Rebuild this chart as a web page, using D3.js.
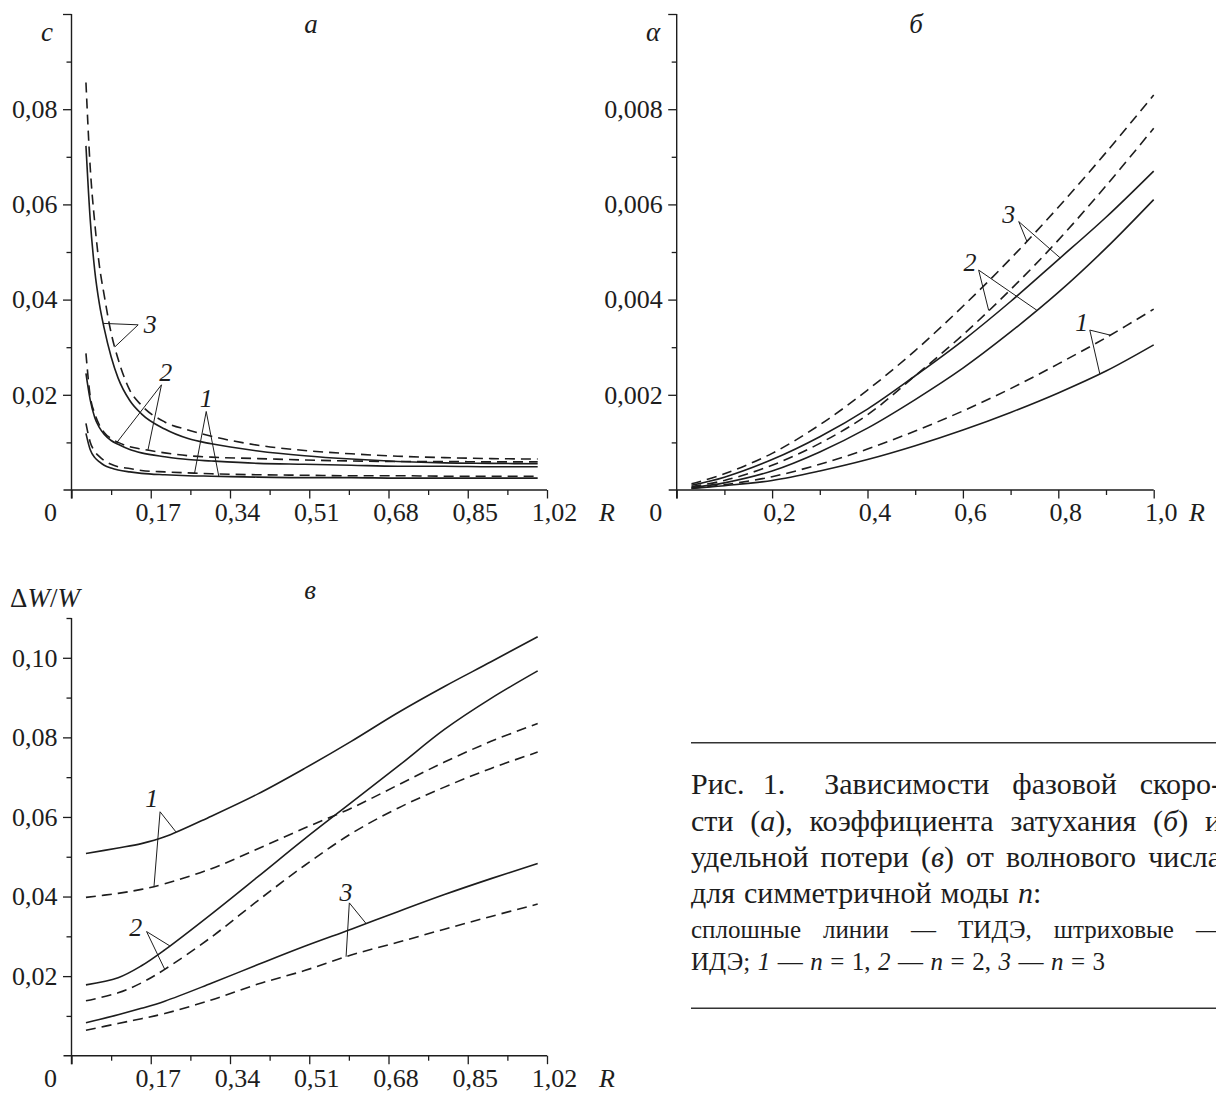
<!DOCTYPE html>
<html>
<head>
<meta charset="utf-8">
<script src="https://cdn.jsdelivr.net/npm/d3@7"></script>
<style>
    body { margin: 0; background: #fff; }
    svg { display: block; font-family: "Liberation Serif", "DejaVu Serif", serif; }
</style>
</head>
<body>
<script>
// ---- values ----

// a: phase speed c(R)
var rA = [0.031, 0.04, 0.05, 0.06, 0.07, 0.085, 0.1, 0.125, 0.15, 0.2, 0.25, 0.3, 0.4, 0.5, 0.6, 0.7, 0.8, 0.9, 1.0]
var cSolid1  = [0.0119, 0.0085, 0.0068, 0.0059, 0.0052, 0.0046, 0.0042, 0.0038, 0.0035, 0.0032, 0.0030, 0.0029, 0.0027, 0.0026, 0.0026, 0.0025, 0.0025, 0.0025, 0.0025]
var cDashed1 = [0.0140, 0.0101, 0.0081, 0.0070, 0.0062, 0.0054, 0.0049, 0.0045, 0.0041, 0.0038, 0.0036, 0.0034, 0.0032, 0.0031, 0.0030, 0.0030, 0.0029, 0.0029, 0.0029]
var cSolid2  = [0.0245, 0.0190, 0.0152, 0.0131, 0.0117, 0.0104, 0.0096, 0.0085, 0.0078, 0.0070, 0.0064, 0.0061, 0.0056, 0.0054, 0.0052, 0.0050, 0.0050, 0.0049, 0.0049]
var cDashed2 = [0.0287, 0.0198, 0.0160, 0.0136, 0.0121, 0.0108, 0.0100, 0.0091, 0.0086, 0.0078, 0.0072, 0.0069, 0.0066, 0.0063, 0.0061, 0.0060, 0.0060, 0.0059, 0.0059]
var cSolid3  = [0.0723, 0.0570, 0.0460, 0.0390, 0.0340, 0.0280, 0.0235, 0.0188, 0.0160, 0.0128, 0.0108, 0.0097, 0.0082, 0.0072, 0.0065, 0.0060, 0.0057, 0.0056, 0.0055]
var cDashed3 = [0.0856, 0.0680, 0.0560, 0.0470, 0.0410, 0.0330, 0.0275, 0.0210, 0.0178, 0.0143, 0.0126, 0.0113, 0.0094, 0.0083, 0.0076, 0.0071, 0.0068, 0.0066, 0.0065]

// б: damping coefficient alpha(R)
var rB = [0.031, 0.1, 0.2, 0.3, 0.4, 0.5, 0.6, 0.7, 0.8, 0.9, 1.0]
var aSolid1  = [0.00003, 0.00009, 0.00020, 0.00040, 0.00064, 0.00093, 0.00126, 0.00163, 0.00204, 0.00250, 0.00305]
var aDashed1 = [0.00004, 0.00011, 0.00028, 0.00054, 0.00086, 0.00124, 0.00166, 0.00213, 0.00265, 0.00320, 0.00380]
var aSolid2  = [0.00005, 0.00015, 0.00040, 0.00080, 0.00130, 0.00190, 0.00256, 0.00332, 0.00415, 0.00508, 0.00610]
var aDashed2 = [0.00007, 0.00020, 0.00052, 0.00098, 0.00158, 0.00240, 0.00326, 0.00421, 0.00525, 0.00639, 0.00760]
var aSolid3  = [0.00010, 0.00027, 0.00064, 0.00112, 0.00170, 0.00240, 0.00314, 0.00396, 0.00484, 0.00573, 0.00670]
var aDashed3 = [0.00013, 0.00034, 0.00077, 0.00137, 0.00210, 0.00293, 0.00386, 0.00486, 0.00594, 0.00709, 0.00830]

// в: specific loss dW/W(R)
var rC = [0.031, 0.1, 0.15, 0.2, 0.3, 0.4, 0.5, 0.6, 0.7, 0.8, 0.9, 1.0]
var wSolid1  = [0.0508, 0.0522, 0.0533, 0.0550, 0.0602, 0.0658, 0.0722, 0.0790, 0.0862, 0.0928, 0.0990, 0.1053]
var wDashed1 = [0.0398, 0.0408, 0.0418, 0.0432, 0.0470, 0.0520, 0.0572, 0.0622, 0.0680, 0.0738, 0.0790, 0.0835]
var wSolid2  = [0.0178, 0.0196, 0.0226, 0.0266, 0.0356, 0.0450, 0.0545, 0.0636, 0.0727, 0.0820, 0.0898, 0.0967]
var wDashed2 = [0.0138, 0.0158, 0.0183, 0.0217, 0.0298, 0.0390, 0.0478, 0.0558, 0.0622, 0.0675, 0.0722, 0.0763]
var wSolid3  = [0.0083, 0.0103, 0.0119, 0.0137, 0.0182, 0.0229, 0.0275, 0.0318, 0.0362, 0.0405, 0.0445, 0.0483]
var wDashed3 = [0.0064, 0.0081, 0.0093, 0.0106, 0.0140, 0.0180, 0.0214, 0.0253, 0.0285, 0.0318, 0.0350, 0.0381]

// ticks and their labels
var xTicksA = [0, 0.17, 0.34, 0.51, 0.68, 0.85, 1.02]
var xLabelsA = ["0", "0,17", "0,34", "0,51", "0,68", "0,85", "1,02"]
var xMinorA = [0.085, 0.255, 0.425, 0.595, 0.765, 0.935]
var yTicksA = [0.02, 0.04, 0.06, 0.08, 0.1]
var yLabelsA = ["0,02", "0,04", "0,06", "0,08", ""]
var yMinorA = [0.01, 0.03, 0.05, 0.07, 0.09]

var xTicksB = [0, 0.2, 0.4, 0.6, 0.8, 1.0]
var xLabelsB = ["0", "0,2", "0,4", "0,6", "0,8", "1,0"]
var xMinorB = [0.1, 0.3, 0.5, 0.7, 0.9]
var yTicksB = [0.002, 0.004, 0.006, 0.008, 0.01]
var yLabelsB = ["0,002", "0,004", "0,006", "0,008", ""]
var yMinorB = [0.001, 0.003, 0.005, 0.007, 0.009]

var yTicksC = [0.02, 0.04, 0.06, 0.08, 0.1]
var yLabelsC = ["0,02", "0,04", "0,06", "0,08", "0,10"]
var yMinorC = [0.01, 0.03, 0.05, 0.07, 0.09, 0.11]

// curve numbers with their leader lines: label point, apex, and the R where each leg meets a curve
var leadersA = [
    { n: "3", at: [0.169, 0.0350], apex: [0.143, 0.0347], legs: [["s3", 0.068], ["d3", 0.093]] },
    { n: "2", at: [0.202, 0.0249], apex: [0.193, 0.0221], legs: [["s2", 0.096], ["d2", 0.164]] },
    { n: "1", at: [0.289, 0.0193], apex: [0.289, 0.0165], legs: [["d1", 0.264], ["s1", 0.316]] }
]
var leadersB = [
    { n: "3", at: [0.696, 0.00581], apex: [0.717, 0.00564], legs: [["d3", 0.734], ["s3", 0.804]] },
    { n: "2", at: [0.615, 0.00480], apex: [0.633, 0.00462], legs: [["d2", 0.654], ["s2", 0.755]] },
    { n: "1", at: [0.849, 0.00354], apex: [0.866, 0.00336], legs: [["d1", 0.909], ["s1", 0.887]] }
]
var leadersC = [
    { n: "1", at: [0.172, 0.0647], apex: [0.190, 0.0613], legs: [["s1", 0.224], ["d1", 0.177]] },
    { n: "2", at: [0.138, 0.0324], apex: [0.161, 0.0312], legs: [["s2", 0.211], ["d2", 0.200]] },
    { n: "3", at: [0.589, 0.0412], apex: [0.596, 0.0384], legs: [["s3", 0.632], ["d3", 0.589]] }
]

// ---- drawing ----
var width = 1216
var height = 1093
var ink = "#1d1d1d"
var tickFont = 26

var svg = d3.select("body").append("svg")
    .attr("width", width)
    .attr("height", height)

svg.append("rect").attr("width", width).attr("height", height).attr("fill", "#fff")

function buildSeries(r, lists) {
    var out = {}
    Object.keys(lists).forEach(function (k) {
        out[k] = r.map(function (v, i) { return [v, lists[k][i]] })
    })
    return out
}

function valueAt(pts, R) {
    var i = d3.bisector(function (d) { return d[0] }).left(pts, R)
    if (i <= 0) return pts[0][1]
    if (i >= pts.length) return pts[pts.length - 1][1]
    var a = pts[i - 1], b = pts[i]
    return a[1] + (b[1] - a[1]) * (R - a[0]) / (b[0] - a[0])
}

function renderPanel(p) {
    var x = d3.scaleLinear().domain([0, p.xMax]).range([p.left, p.right])
    var y = d3.scaleLinear().domain([0, p.yMax]).range([p.bottom, p.top])
    var g = svg.append("g").attr("class", "panel")

    // axis lines
    g.append("line")
        .attr("x1", p.left - 8).attr("x2", x(p.xMax))
        .attr("y1", p.bottom).attr("y2", p.bottom)
        .style("stroke", ink).style("stroke-width", 1.4)
    g.append("line")
        .attr("x1", p.left).attr("x2", p.left)
        .attr("y1", p.bottom + 8.5).attr("y2", y(p.yMax))
        .style("stroke", ink).style("stroke-width", 1.4)

    // minor ticks
    g.append("g").attr("transform", "translate(0," + p.bottom + ")")
        .call(d3.axisBottom(x).tickValues(p.xMinor).tickSize(5).tickSizeOuter(0).tickFormat(""))
    g.append("g").attr("transform", "translate(" + p.left + ",0)")
        .call(d3.axisLeft(y).tickValues(p.yMinor).tickSize(5).tickSizeOuter(0).tickFormat(""))

    // major ticks with labels
    var xa = g.append("g").attr("class", "x-axis").attr("transform", "translate(0," + p.bottom + ")")
        .call(d3.axisBottom(x).tickValues(p.xTicks).tickSize(8.5).tickSizeOuter(0).tickPadding(4)
            .tickFormat(function (d, i) { return p.xLabels[i] }))
    xa.selectAll("text").attr("x", function (d) { return d === 0 ? -21.5 : 7 })

    g.append("g").attr("class", "y-axis").attr("transform", "translate(" + p.left + ",0)")
        .call(d3.axisLeft(y).tickValues(p.yTicks).tickSize(8.5).tickSizeOuter(0).tickPadding(5.5)
            .tickFormat(function (d, i) { return p.yLabels[i] }))

    g.selectAll(".domain").remove()
    g.selectAll(".tick line").style("stroke", ink).style("stroke-width", 1.3)
    g.selectAll("g").attr("font-family", null).attr("font-size", null)
    g.selectAll(".tick text").style("font-size", tickFont + "px").style("fill", ink)

    // R label
    g.append("text")
        .attr("x", p.rLabelX).attr("y", p.bottom + 31)
        .style("font-size", tickFont + "px").style("font-style", "italic").style("fill", ink)
        .text("R")

    // curves
    var line = d3.line()
        .x(function (d) { return x(d[0]) })
        .y(function (d) { return y(d[1]) })
        .curve(p.curve)

    Object.keys(p.series).forEach(function (k) {
        g.append("path")
            .datum(p.series[k])
            .attr("class", "data-line")
            .style("fill", "none")
            .style("stroke", ink)
            .style("stroke-width", 1.6)
            .style("stroke-dasharray", k[0] === "d" ? "10,6" : null)
            .attr("d", line)
    })

    // leaders
    p.leaders.forEach(function (l) {
        l.legs.forEach(function (leg) {
            var v = valueAt(p.series[leg[0]], leg[1])
            g.append("line")
                .attr("x1", x(l.apex[0])).attr("y1", y(l.apex[1]))
                .attr("x2", x(leg[1])).attr("y2", y(v))
                .style("stroke", ink).style("stroke-width", 1)
        })
        g.append("text")
            .attr("x", x(l.at[0])).attr("y", y(l.at[1]))
            .attr("dy", "0.35em")
            .attr("text-anchor", "middle")
            .style("font-size", "26px").style("font-style", "italic").style("fill", ink)
            .text(l.n)
    })
}

renderPanel({
    left: 71.5, right: 547, bottom: 490, top: 14, xMax: 1.02, yMax: 0.1, rLabelX: 599,
    xTicks: xTicksA, xLabels: xLabelsA, xMinor: xMinorA,
    yTicks: yTicksA, yLabels: yLabelsA, yMinor: yMinorA,
    series: buildSeries(rA, { s1: cSolid1, d1: cDashed1, s2: cSolid2, d2: cDashed2, s3: cSolid3, d3: cDashed3 }),
    leaders: leadersA,
    curve: d3.curveMonotoneX
})

renderPanel({
    left: 676.7, right: 1153.7, bottom: 490, top: 14, xMax: 1.0, yMax: 0.01, rLabelX: 1189,
    xTicks: xTicksB, xLabels: xLabelsB, xMinor: xMinorB,
    yTicks: yTicksB, yLabels: yLabelsB, yMinor: yMinorB,
    series: buildSeries(rB, { s1: aSolid1, d1: aDashed1, s2: aSolid2, d2: aDashed2, s3: aSolid3, d3: aDashed3 }),
    leaders: leadersB,
    curve: d3.curveCatmullRom.alpha(0.5)
})

renderPanel({
    left: 71.5, right: 547, bottom: 1055.7, top: 618, xMax: 1.02, yMax: 0.11, rLabelX: 599,
    xTicks: xTicksA, xLabels: xLabelsA, xMinor: xMinorA,
    yTicks: yTicksC, yLabels: yLabelsC, yMinor: yMinorC,
    series: buildSeries(rC, { s1: wSolid1, d1: wDashed1, s2: wSolid2, d2: wDashed2, s3: wSolid3, d3: wDashed3 }),
    leaders: leadersC,
    curve: d3.curveCatmullRom.alpha(0.5)
})

// panel letters and quantity names
function label(txt, xPos, yPos, italic, anchor) {
    svg.append("text")
        .attr("x", xPos).attr("y", yPos)
        .attr("text-anchor", anchor || "middle")
        .style("font-size", "27px")
        .style("font-style", italic ? "italic" : "normal")
        .style("fill", ink)
        .text(txt)
}
label("a", 311, 33, true)
label("б", 916, 33, true)
label("в", 310, 599, true)
label("c", 47, 41, true)
label("α", 653, 41, true)

var dw = svg.append("text").attr("x", 10).attr("y", 607)
    .style("font-size", "27px").style("fill", ink)
dw.append("tspan").text("Δ")
dw.append("tspan").style("font-style", "italic").text("W")
dw.append("tspan").text("/")
dw.append("tspan").style("font-style", "italic").text("W")

// ---- caption ----
var capLeft = 691
var capWidth = 530

svg.append("line").attr("x1", capLeft).attr("x2", width).attr("y1", 742.7).attr("y2", 742.7)
    .style("stroke", "#333").style("stroke-width", 1.6)
svg.append("line").attr("x1", capLeft).attr("x2", width).attr("y1", 1008.3).attr("y2", 1008.3)
    .style("stroke", "#333").style("stroke-width", 1.6)

function captionLine(words, yPos, size, justify, weights) {
    var items = words.map(function (w) {
        var t = svg.append("text").attr("y", yPos).style("font-size", size + "px").style("fill", ink)
        w.forEach(function (run) {
            t.append("tspan").style("font-style", run[1] ? "italic" : "normal").text(run[0])
        })
        return t
    })
    var widths = items.map(function (t) { return t.node().getComputedTextLength() })
    var ws = weights || items.map(function () { return 1 })
    var gapUnit = size * 0.3
    if (justify) {
        var wsum = d3.sum(ws.slice(0, items.length - 1))
        gapUnit = Math.max(size * 0.2, (capWidth - d3.sum(widths)) / wsum)
    }
    var xPos = capLeft
    items.forEach(function (t, i) {
        t.attr("x", xPos)
        xPos += widths[i] + gapUnit * ws[i]
    })
}

captionLine([[["Рис."]], [["1."]], [["Зависимости"]], [["фазовой"]], [["скоро-"]]], 794, 30, true, [0.8, 1.7, 1, 1, 1])
captionLine([[["сти"]], [["("], ["a", 1], ["),"]], [["коэффициента"]], [["затухания"]], [["("], ["б", 1], [")"]], [["и"]]], 830.5, 30, true)
captionLine([[["удельной"]], [["потери"]], [["("], ["в", 1], [")"]], [["от"]], [["волнового"]], [["числа"]]], 867, 30, true)
captionLine([[["для"]], [["симметричной"]], [["моды"]], [["n", 1], [":"]]], 903.3, 30, false)
captionLine([[["сплошные"]], [["линии"]], [["—"]], [["ТИДЭ,"]], [["штриховые"]], [["—"]]], 938.3, 25, true)
captionLine([[["ИДЭ;"]], [["1", 1]], [["—"]], [["n", 1]], [["="]], [["1,"]], [["2", 1]], [["—"]], [["n", 1]], [["="]], [["2,"]],
    [["3", 1]], [["—"]], [["n", 1]], [["="]], [["3"]]], 970, 25, false)
</script>
</body>
</html>
